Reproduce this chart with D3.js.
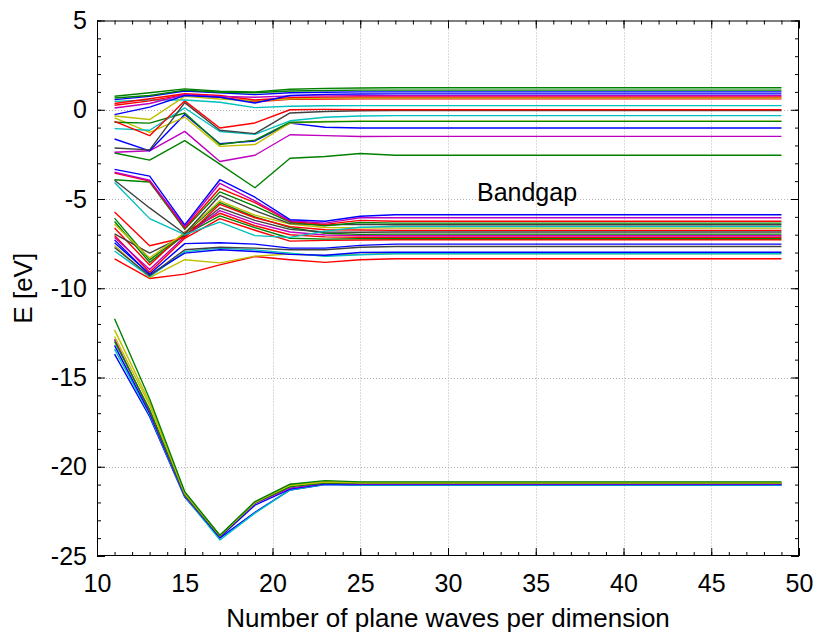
<!DOCTYPE html>
<html>
<head>
<meta charset="utf-8">
<script src="https://cdn.jsdelivr.net/npm/d3@7"></script>
<style>
  body { margin: 0; background: #ffffff; }
  svg text { font-family: "Liberation Sans", Arial, Helvetica, sans-serif; fill: #000; }
</style>
</head>
<body>
<svg id="chart" width="813" height="634"></svg>
<script>
// Number of plane waves per dimension (cutoff) at which the eigenvalues were computed
const planeWaves = [11, 13, 15, 17, 19, 21, 23, 25, 27, 29, 31, 33, 35, 37, 39, 41, 43, 45, 47, 49];

// Deep (semi-core) bands, eV
const coreBands = [
  [-13.69,-17.20,-21.70,-24.00,-22.55,-21.30,-21.00,-21.04,-21.04,-21.04,-21.04,-21.04,-21.04,-21.04,-21.04,-21.04,-21.04,-21.04,-21.04,-21.04],
  [-13.41,-17.10,-21.66,-24.10,-22.60,-21.30,-20.98,-21.02,-21.02,-21.02,-21.02,-21.02,-21.02,-21.02,-21.02,-21.02,-21.02,-21.02,-21.02,-21.02],
  [-13.20,-17.00,-21.62,-23.95,-22.15,-21.25,-20.95,-20.98,-20.98,-20.98,-20.98,-20.98,-20.98,-20.98,-20.98,-20.98,-20.98,-20.98,-20.98,-20.98],
  [-12.85,-16.90,-21.60,-23.90,-22.05,-21.20,-20.92,-20.95,-20.95,-20.95,-20.95,-20.95,-20.95,-20.95,-20.95,-20.95,-20.95,-20.95,-20.95,-20.95],
  [-12.98,-16.80,-21.56,-23.88,-22.02,-21.12,-20.90,-20.92,-20.92,-20.92,-20.92,-20.92,-20.92,-20.92,-20.92,-20.92,-20.92,-20.92,-20.92,-20.92],
  [-12.70,-16.55,-21.50,-23.86,-22.00,-21.05,-20.86,-20.90,-20.90,-20.90,-20.90,-20.90,-20.90,-20.90,-20.90,-20.90,-20.90,-20.90,-20.90,-20.90],
  [-12.33,-16.40,-21.45,-23.85,-21.98,-21.00,-20.82,-20.88,-20.88,-20.88,-20.88,-20.88,-20.88,-20.88,-20.88,-20.88,-20.88,-20.88,-20.88,-20.88],
  [-11.71,-16.20,-21.40,-23.84,-21.95,-20.98,-20.78,-20.85,-20.85,-20.85,-20.85,-20.85,-20.85,-20.85,-20.85,-20.85,-20.85,-20.85,-20.85,-20.85]
];
const coreColors = ["b", "c", "b", "m", "g", "y", "y", "g"];

// Valence bands, eV
const valenceBands = [
  [-8.35,-9.45,-9.21,-8.69,-8.22,-8.40,-8.55,-8.40,-8.35,-8.35,-8.35,-8.35,-8.35,-8.35,-8.35,-8.35,-8.35,-8.35,-8.35,-8.35],
  [-7.60,-9.40,-8.40,-8.58,-8.20,-8.08,-8.18,-8.10,-8.06,-8.06,-8.06,-8.06,-8.06,-8.06,-8.06,-8.06,-8.06,-8.06,-8.06,-8.06],
  [-7.91,-9.35,-7.95,-7.75,-7.85,-8.03,-8.21,-8.12,-8.07,-8.07,-8.07,-8.07,-8.07,-8.07,-8.07,-8.07,-8.07,-8.07,-8.07,-8.07],
  [-7.29,-9.25,-8.03,-7.84,-7.94,-8.10,-8.15,-8.00,-7.98,-7.98,-7.98,-7.98,-7.98,-7.98,-7.98,-7.98,-7.98,-7.98,-7.98,-7.98],
  [-7.72,-9.30,-7.84,-7.70,-7.75,-7.84,-7.84,-7.70,-7.66,-7.66,-7.66,-7.66,-7.66,-7.66,-7.66,-7.66,-7.66,-7.66,-7.66,-7.66],
  [-7.45,-9.20,-7.50,-7.45,-7.53,-7.75,-7.75,-7.60,-7.53,-7.53,-7.53,-7.53,-7.53,-7.53,-7.53,-7.53,-7.53,-7.53,-7.53,-7.53],
  [-7.04,-9.10,-7.20,-6.10,-6.75,-7.36,-7.32,-7.30,-7.28,-7.28,-7.28,-7.28,-7.28,-7.28,-7.28,-7.28,-7.28,-7.28,-7.28,-7.28],
  [-6.26,-8.55,-7.00,-5.95,-6.60,-7.20,-7.25,-7.22,-7.21,-7.21,-7.21,-7.21,-7.21,-7.21,-7.21,-7.21,-7.21,-7.21,-7.21,-7.21],
  [-6.63,-8.70,-6.85,-5.80,-6.50,-7.00,-7.12,-7.14,-7.14,-7.14,-7.14,-7.14,-7.14,-7.14,-7.14,-7.14,-7.14,-7.14,-7.14,-7.14],
  [-7.16,-8.95,-7.10,-5.65,-6.35,-6.85,-7.02,-7.05,-7.06,-7.06,-7.06,-7.06,-7.06,-7.06,-7.06,-7.06,-7.06,-7.06,-7.06,-7.06],
  [-6.07,-8.41,-6.95,-5.20,-6.00,-6.60,-6.92,-6.98,-6.97,-6.97,-6.97,-6.97,-6.97,-6.97,-6.97,-6.97,-6.97,-6.97,-6.97,-6.97],
  [-6.95,-8.03,-7.05,-5.50,-6.20,-6.70,-6.85,-6.86,-6.85,-6.85,-6.85,-6.85,-6.85,-6.85,-6.85,-6.85,-6.85,-6.85,-6.85,-6.85],
  [-5.73,-7.62,-7.16,-5.30,-6.05,-6.55,-6.72,-6.74,-6.76,-6.76,-6.76,-6.76,-6.76,-6.76,-6.76,-6.76,-6.76,-6.76,-6.76,-6.76],
  [-6.41,-8.30,-6.90,-5.10,-5.90,-6.40,-6.60,-6.62,-6.63,-6.63,-6.63,-6.63,-6.63,-6.63,-6.63,-6.63,-6.63,-6.63,-6.63,-6.63],
  [-4.07,-6.10,-7.00,-6.30,-7.05,-7.15,-6.80,-6.58,-6.54,-6.54,-6.54,-6.54,-6.54,-6.54,-6.54,-6.54,-6.54,-6.54,-6.54,-6.54],
  [-3.95,-5.50,-6.95,-4.80,-5.65,-6.38,-6.45,-6.42,-6.44,-6.44,-6.44,-6.44,-6.44,-6.44,-6.44,-6.44,-6.44,-6.44,-6.44,-6.44],
  [-3.92,-4.05,-6.70,-4.60,-5.40,-6.30,-6.50,-6.32,-6.35,-6.35,-6.35,-6.35,-6.35,-6.35,-6.35,-6.35,-6.35,-6.35,-6.35,-6.35],
  [-3.55,-4.00,-6.62,-4.40,-5.20,-6.26,-6.42,-6.20,-6.25,-6.25,-6.25,-6.25,-6.25,-6.25,-6.25,-6.25,-6.25,-6.25,-6.25,-6.25],
  [-3.50,-3.95,-6.55,-4.12,-5.10,-6.22,-6.35,-6.05,-6.05,-6.05,-6.05,-6.05,-6.05,-6.05,-6.05,-6.05,-6.05,-6.05,-6.05,-6.05],
  [-3.34,-3.72,-6.45,-3.92,-4.90,-6.16,-6.25,-5.97,-5.88,-5.88,-5.88,-5.88,-5.88,-5.88,-5.88,-5.88,-5.88,-5.88,-5.88,-5.88]
];
const valenceColors = ["r", "y", "c", "b", "k", "b", "r", "g", "r", "m", "g", "k", "r", "y", "c", "k", "g", "r", "m", "b"];

// Conduction bands, eV
const conductionBands = [
  [-2.42,-2.82,-1.73,-3.05,-4.37,-2.72,-2.62,-2.45,-2.55,-2.55,-2.55,-2.55,-2.55,-2.55,-2.55,-2.55,-2.55,-2.55,-2.55,-2.55],
  [-2.38,-2.30,-1.21,-2.90,-2.55,-1.40,-1.45,-1.50,-1.49,-1.49,-1.49,-1.49,-1.49,-1.49,-1.49,-1.49,-1.49,-1.49,-1.49,-1.49],
  [-1.64,-2.30,-0.27,-1.90,-1.75,-0.75,-0.98,-1.02,-1.02,-1.02,-1.02,-1.02,-1.02,-1.02,-1.02,-1.02,-1.02,-1.02,-1.02,-1.02],
  [-0.46,-1.27,-0.41,-2.05,-1.95,-0.74,-0.66,-0.64,-0.64,-0.64,-0.64,-0.64,-0.64,-0.64,-0.64,-0.64,-0.64,-0.64,-0.64,-0.64],
  [-0.70,-0.75,-0.18,-1.95,-1.70,-0.70,-0.68,-0.65,-0.65,-0.65,-0.65,-0.65,-0.65,-0.65,-0.65,-0.65,-0.65,-0.65,-0.65,-0.65],
  [-1.06,-1.15,0.10,-1.22,-1.38,-0.62,-0.42,-0.35,-0.33,-0.33,-0.33,-0.33,-0.33,-0.33,-0.33,-0.33,-0.33,-0.33,-0.33,-0.33],
  [-2.14,-2.25,0.40,-1.15,-1.34,-0.18,-0.10,-0.06,-0.05,-0.05,-0.05,-0.05,-0.05,-0.05,-0.05,-0.05,-0.05,-0.05,-0.05,-0.05],
  [-0.65,-1.45,0.50,-1.02,-0.74,0.00,0.02,0.00,0.00,0.00,0.00,0.00,0.00,0.00,0.00,0.00,0.00,0.00,0.00,0.00],
  [0.47,0.55,0.55,0.42,0.12,0.20,0.22,0.23,0.23,0.23,0.23,0.23,0.23,0.23,0.23,0.23,0.23,0.23,0.23,0.23],
  [0.25,0.50,0.85,0.70,0.45,0.58,0.60,0.61,0.61,0.61,0.61,0.61,0.61,0.61,0.61,0.61,0.61,0.61,0.61,0.61],
  [-0.35,-0.55,0.75,0.60,0.50,0.62,0.65,0.66,0.66,0.66,0.66,0.66,0.66,0.66,0.66,0.66,0.66,0.66,0.66,0.66],
  [0.35,0.62,0.90,0.80,0.55,0.68,0.71,0.72,0.72,0.72,0.72,0.72,0.72,0.72,0.72,0.72,0.72,0.72,0.72,0.72],
  [0.10,0.35,0.85,0.75,0.70,0.78,0.78,0.79,0.79,0.79,0.79,0.79,0.79,0.79,0.79,0.79,0.79,0.79,0.79,0.79],
  [-0.27,0.15,0.80,0.70,0.38,0.80,0.86,0.88,0.89,0.89,0.89,0.89,0.89,0.89,0.89,0.89,0.89,0.89,0.89,0.89],
  [0.57,0.75,1.05,0.95,0.85,0.95,0.98,1.00,1.00,1.00,1.00,1.00,1.00,1.00,1.00,1.00,1.00,1.00,1.00,1.00],
  [0.66,0.80,1.10,0.98,0.95,1.05,1.08,1.10,1.10,1.10,1.10,1.10,1.10,1.10,1.10,1.10,1.10,1.10,1.10,1.10],
  [0.755,0.95,1.17,1.04,1.00,1.15,1.20,1.22,1.23,1.23,1.23,1.23,1.23,1.23,1.23,1.23,1.23,1.23,1.23,1.23]
];
const conductionColors = ["g", "m", "b", "y", "g", "c", "k", "r", "c", "r", "y", "r", "m", "b", "b", "g", "g"];

// Axis ticks and labels
const xTicks = [10, 15, 20, 25, 30, 35, 40, 45, 50];
const yTicks = [5, 0, -5, -10, -15, -20, -25];
const xMinorTicks = d3.range(10, 51, 1);
const yMinorTicks = d3.range(-25, 6, 1);
const xLabel = "Number of plane waves per dimension";
const yLabel = "E [eV]";
const gapLabel = "Bandgap";
const gapLabelAt = [31.65, -4.6];

// Line colour order
const palette = {
  b: "#0000ff", g: "#008000", r: "#ff0000", c: "#00bfbf",
  m: "#bf00bf", y: "#bfbf00", k: "#404040"
};

const W = 813, H = 634;
const margin = { left: 97, right: 14, top: 20.5, bottom: 78 };
const x0 = margin.left, x1 = W - margin.right;
const y0 = margin.top, y1 = H - margin.bottom;

const svg = d3.select("#chart");
svg.append("rect").attr("width", W).attr("height", H).attr("fill", "#fff");

const x = d3.scaleLinear().domain([10, 50]).range([x0, x1]);
const y = d3.scaleLinear().domain([-25, 5]).range([y1, y0]);

// dotted grid at major ticks
const grid = svg.append("g").attr("stroke", "#b4b4b4").attr("stroke-width", 1)
  .attr("stroke-dasharray", "1,2").attr("fill", "none");
grid.selectAll("line.gx").data(xTicks.slice(1, -1)).join("line")
  .attr("class", "gx")
  .attr("x1", d => Math.round(x(d)) + 0.5).attr("x2", d => Math.round(x(d)) + 0.5)
  .attr("y1", y0).attr("y2", y1);
grid.selectAll("line.gy").data(yTicks.slice(1, -1)).join("line")
  .attr("class", "gy")
  .attr("y1", d => Math.round(y(d)) + 0.5).attr("y2", d => Math.round(y(d)) + 0.5)
  .attr("x1", x0).attr("x2", x1);

// bands
const line = d3.line()
  .x((d, i) => x(planeWaves[i]))
  .y(d => y(d));

function drawBands(bands, colors, cls) {
  svg.append("g").attr("class", cls)
    .selectAll("path").data(bands).join("path")
    .attr("d", line)
    .attr("fill", "none")
    .attr("stroke", (d, i) => palette[colors[i]])
    .attr("stroke-width", 1.4)
    .attr("stroke-linejoin", "round");
}
drawBands(coreBands, coreColors, "core");
drawBands(valenceBands, valenceColors, "valence");
drawBands(conductionBands, conductionColors, "conduction");

// axes: ticks point inward on all four sides
const fontSize = 25;
function styleAxis(g) {
  g.select(".domain").remove();
  g.selectAll(".tick line").attr("stroke", "#000").attr("stroke-width", 1);
  g.selectAll(".tick text").attr("font-size", fontSize).attr("font-family", "Liberation Sans, Arial, sans-serif");
}
const noLabel = () => "";
const plainLabel = d => String(d);   // ASCII hyphen for negatives

svg.append("g").attr("transform", `translate(0,${y1})`)
  .call(d3.axisBottom(x).tickValues(xMinorTicks).tickSize(-4).tickFormat(noLabel)).call(styleAxis);
svg.append("g").attr("transform", `translate(0,${y1})`)
  .call(d3.axisBottom(x).tickValues(xTicks).tickSize(-8).tickPadding(18).tickFormat(plainLabel)).call(styleAxis);
svg.append("g").attr("transform", `translate(0,${y0})`)
  .call(d3.axisTop(x).tickValues(xMinorTicks).tickSize(-4).tickFormat(noLabel)).call(styleAxis);
svg.append("g").attr("transform", `translate(0,${y0})`)
  .call(d3.axisTop(x).tickValues(xTicks).tickSize(-8).tickFormat(noLabel)).call(styleAxis);

svg.append("g").attr("transform", `translate(${x0},0)`)
  .call(d3.axisLeft(y).tickValues(yMinorTicks).tickSize(-4).tickFormat(noLabel)).call(styleAxis);
svg.append("g").attr("transform", `translate(${x0},0)`)
  .call(d3.axisLeft(y).tickValues(yTicks).tickSize(-8).tickPadding(10).tickFormat(plainLabel)).call(styleAxis);
svg.append("g").attr("transform", `translate(${x1},0)`)
  .call(d3.axisRight(y).tickValues(yMinorTicks).tickSize(-4).tickFormat(noLabel)).call(styleAxis);
svg.append("g").attr("transform", `translate(${x1},0)`)
  .call(d3.axisRight(y).tickValues(yTicks).tickSize(-8).tickFormat(noLabel)).call(styleAxis);

// frame
svg.append("rect")
  .attr("x", x0 + 0.5).attr("y", y0 + 0.5)
  .attr("width", x1 - x0 - 1).attr("height", y1 - y0 - 1)
  .attr("fill", "none").attr("stroke", "#000").attr("stroke-width", 1);

// axis titles
svg.append("text")
  .attr("x", (x0 + x1) / 2).attr("y", 627)
  .attr("text-anchor", "middle").attr("font-size", 26)
  .text(xLabel);
svg.append("text")
  .attr("transform", `translate(32,${(y0 + y1) / 2}) rotate(-90)`)
  .attr("text-anchor", "middle").attr("font-size", 26)
  .text(yLabel);

// annotation
svg.append("text")
  .attr("x", x(gapLabelAt[0])).attr("y", y(gapLabelAt[1]))
  .attr("dy", "0.35em").attr("font-size", fontSize)
  .text(gapLabel);
</script>
</body>
</html>
